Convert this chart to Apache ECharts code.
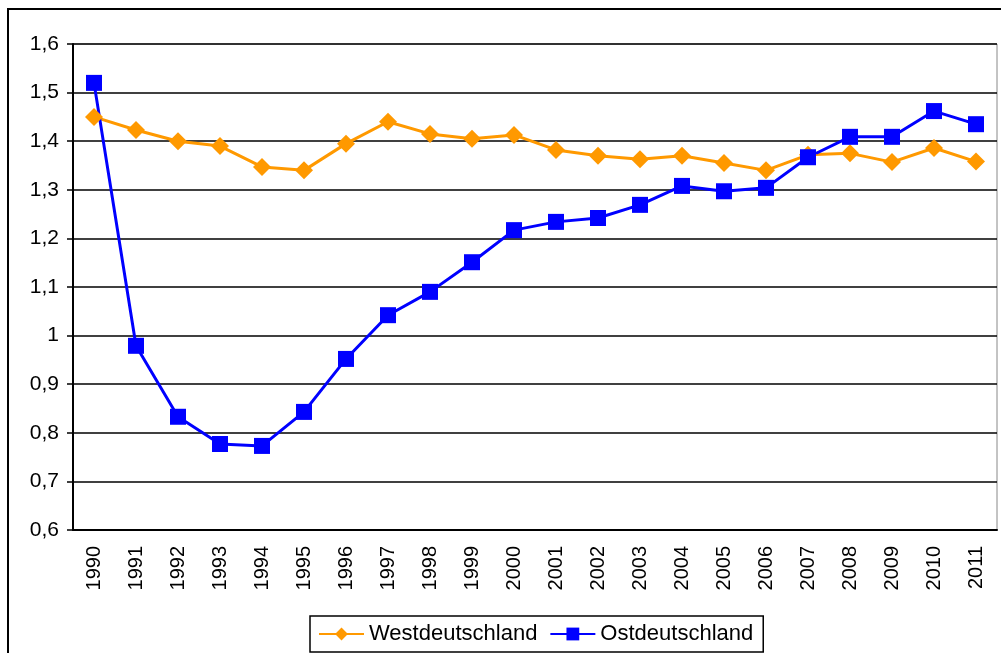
<!DOCTYPE html>
<html>
<head>
<meta charset="utf-8">
<script src="https://cdn.jsdelivr.net/npm/echarts@6/dist/echarts.min.js"></script>
<style>
  html, body { margin: 0; padding: 0; background: #fff; }
  #main { width: 1001px; height: 653px; }
</style>
</head>
<body>
<div id="main"></div>
<script>
// Jahre
var years = ['1990','1991','1992','1993','1994','1995','1996','1997','1998','1999','2000',
             '2001','2002','2003','2004','2005','2006','2007','2008','2009','2010','2011'];
var west = [1.45,1.423,1.40,1.39,1.347,1.34,1.395,1.44,1.415,1.405,1.413,
            1.382,1.37,1.363,1.37,1.355,1.34,1.372,1.375,1.357,1.386,1.358];
var ost = [1.52,0.979,0.833,0.777,0.773,0.843,0.952,1.042,1.09,1.151,1.217,
           1.234,1.242,1.269,1.308,1.297,1.304,1.367,1.409,1.409,1.462,1.435];

var myChart = echarts.init(document.getElementById('main'));
myChart.setOption({
    animation: false,
    textStyle: { fontFamily: 'Liberation Sans, Arial, sans-serif', color: '#000' },
    graphic: [{
        type: 'rect',
        shape: { x: 8, y: 9, width: 1010, height: 660 },
        style: { fill: null, stroke: '#000', lineWidth: 2 },
        silent: true
    }],
    grid: { left: 73, right: 4, top: 44, bottom: 123, show: true, borderColor: '#888', borderWidth: 1 },
    legend: {
        bottom: 1,
        left: 310,
        itemWidth: 45,
        itemHeight: 16,
        itemGap: 12,
        padding: [7, 10, 7, 8],
        borderColor: '#000',
        borderWidth: 1.5,
        textStyle: { fontSize: 22, color: '#000' },
        data: ['Westdeutschland', 'Ostdeutschland']
    },
    xAxis: {
        type: 'category',
        data: years,
        boundaryGap: true,
        axisLine: { lineStyle: { color: '#000', width: 2 } },
        axisTick: { length: 6, lineStyle: { color: '#000', width: 1.5 } },
        axisLabel: { rotate: 90, fontSize: 20, color: '#000', margin: 16 }
    },
    yAxis: {
        type: 'value',
        min: 0.6,
        max: 1.6,
        interval: 0.1,
        axisLine: { show: true, lineStyle: { color: '#000', width: 2 } },
        axisTick: { show: true, length: 6, lineStyle: { color: '#000', width: 1.5 } },
        splitLine: { lineStyle: { color: '#000', width: 1.5 } },
        axisLabel: {
            fontSize: 21, color: '#000', margin: 14,
            formatter: function (v) { return String(Math.round(v * 10) / 10).replace('.', ','); }
        }
    },
    series: [{
        name: 'Westdeutschland',
        type: 'line',
        data: west,
        symbol: 'diamond',
        symbolSize: 18,
        itemStyle: { color: '#ff9900' },
        lineStyle: { color: '#ff9900', width: 3 }
    }, {
        name: 'Ostdeutschland',
        type: 'line',
        data: ost,
        symbol: 'rect',
        symbolSize: 16,
        itemStyle: { color: '#0000ff' },
        lineStyle: { color: '#0000ff', width: 3 }
    }]
});
</script>
</body>
</html>
